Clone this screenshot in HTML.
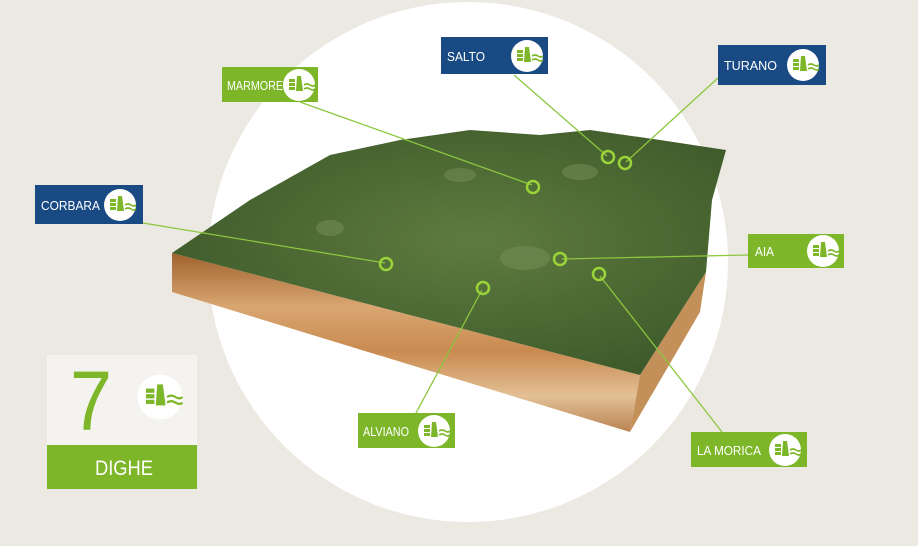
<!DOCTYPE html>
<html><head><meta charset="utf-8"><style>
body{margin:0;width:918px;height:541px;overflow:hidden;background:#ece9e2;font-family:"Liberation Sans",sans-serif}
</style></head><body>
<svg width="918" height="541" viewBox="0 0 918 541" xmlns="http://www.w3.org/2000/svg">
<defs>
<linearGradient id="fr" x1="0" y1="0" x2="0" y2="1">
<stop offset="0" stop-color="#a0622e"/><stop offset="0.3" stop-color="#d9a672"/><stop offset="0.55" stop-color="#c98a50"/><stop offset="0.8" stop-color="#e3c095"/><stop offset="1" stop-color="#b98252"/></linearGradient>
<radialGradient id="tp" cx="0.55" cy="0.45" r="0.6"><stop offset="0" stop-color="#5f7c40"/><stop offset="1" stop-color="#3e5a2a"/></radialGradient>
<g id="ic"><circle r="16" fill="#fff"/><rect x="-10" y="-6" width="6" height="3" fill="#7db628"/><rect x="-10" y="-2" width="6" height="3" fill="#7db628"/><rect x="-10" y="2" width="6" height="3" fill="#7db628"/><path d="M-3 6 L-2 -9 L2 -9 L4 6Z" fill="#7db628"/><path d="M5 0 q3 -2 6 0 t5 0 M5 4 q3 -2 6 0 t5 0" stroke="#7db628" stroke-width="1.6" fill="none"/></g>
</defs>
<circle cx="468" cy="262" r="260" fill="#fff"/>
<polygon points="172,253 640,375 630,432 172,292" fill="url(#fr)"/>
<polygon points="640,375 706,272 700,312 630,432" fill="#c4905a"/>
<polygon points="172,253 250,200 330,155 400,140 470,130 540,135 590,130 660,140 726,150 712,200 706,272 640,375" fill="url(#tp)"/>
<g fill="#7a8f5a" opacity="0.5">
<ellipse cx="525" cy="258" rx="25" ry="12"/><ellipse cx="580" cy="172" rx="18" ry="8"/><ellipse cx="330" cy="228" rx="14" ry="8"/><ellipse cx="460" cy="175" rx="16" ry="7"/>
</g>
<g stroke="#8cc63f" stroke-width="1.3" fill="none">
<line x1="514" y1="75" x2="607" y2="156"/><line x1="718" y1="78" x2="626" y2="162"/>
<line x1="300" y1="102" x2="532" y2="185"/><line x1="143" y1="223" x2="385" y2="263"/>
<line x1="748" y1="255" x2="562" y2="259"/><line x1="416" y1="413" x2="482" y2="290"/>
<line x1="722" y1="432" x2="600" y2="276"/>
</g>
<g stroke="#9bd43a" stroke-width="2.5" fill="none">
<circle cx="608" cy="157" r="6"/><circle cx="625" cy="163" r="6"/><circle cx="533" cy="187" r="6"/>
<circle cx="386" cy="264" r="6"/><circle cx="560" cy="259" r="6"/><circle cx="483" cy="288" r="6"/><circle cx="599" cy="274" r="6"/>
</g>
<g font-size="13" fill="#fff">
<rect x="441" y="37" width="107" height="37" fill="#1a4a84"/><text x="447" y="61" textLength="38" lengthAdjust="spacingAndGlyphs">SALTO</text><use href="#ic" x="527" y="56"/>
<rect x="718" y="45" width="108" height="40" fill="#1a4a84"/><text x="724" y="70" textLength="53" lengthAdjust="spacingAndGlyphs">TURANO</text><use href="#ic" x="803" y="65"/>
<rect x="222" y="67" width="96" height="35" fill="#7db628"/><text x="227" y="90" textLength="56" lengthAdjust="spacingAndGlyphs">MARMORE</text><use href="#ic" x="299" y="85"/>
<rect x="35" y="185" width="108" height="39" fill="#1a4a84"/><text x="41" y="210" textLength="59" lengthAdjust="spacingAndGlyphs">CORBARA</text><use href="#ic" x="120" y="205"/>
<rect x="748" y="234" width="96" height="34" fill="#7db628"/><text x="755" y="256" textLength="19" lengthAdjust="spacingAndGlyphs">AIA</text><use href="#ic" x="823" y="251"/>
<rect x="358" y="413" width="97" height="35" fill="#7db628"/><text x="363" y="436" textLength="46" lengthAdjust="spacingAndGlyphs">ALVIANO</text><use href="#ic" x="434" y="431"/>
<rect x="691" y="432" width="116" height="35" fill="#7db628"/><text x="697" y="455" textLength="64" lengthAdjust="spacingAndGlyphs">LA MORICA</text><use href="#ic" x="785" y="450"/>
</g>
<rect x="47" y="355" width="150" height="134" fill="#f4f3f0"/>
<rect x="47" y="445" width="150" height="44" fill="#7db628"/>
<text x="70" y="430" font-size="84" fill="#7db628" textLength="42" lengthAdjust="spacingAndGlyphs">7</text>
<use href="#ic" x="160" y="397" transform="translate(160 397) scale(1.4) translate(-160 -397)"/>
<text x="95" y="475" font-size="21" fill="#fff" textLength="58" lengthAdjust="spacingAndGlyphs">DIGHE</text>
</svg>
</body></html>
